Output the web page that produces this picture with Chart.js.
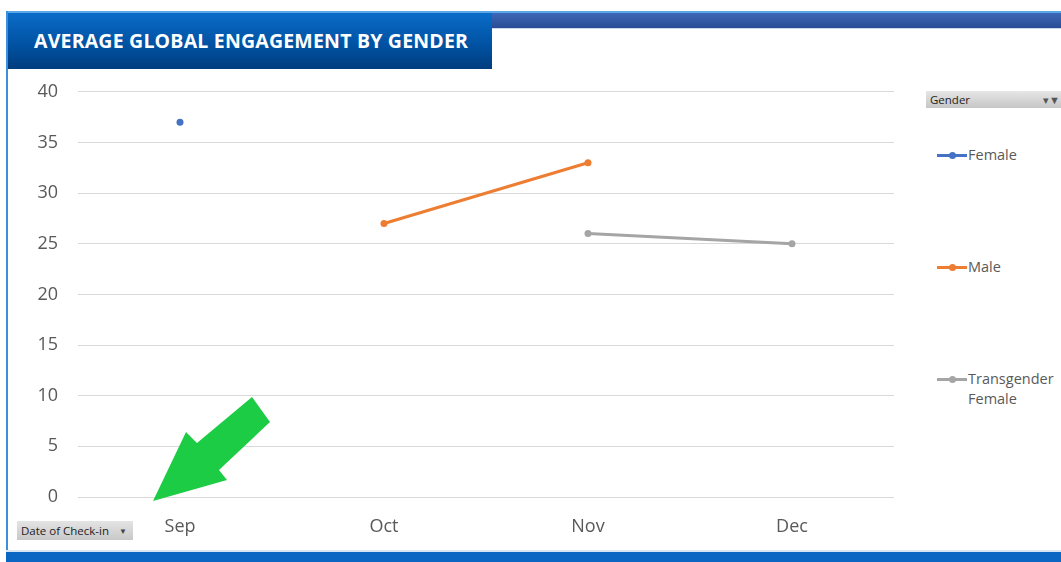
<!DOCTYPE html>
<html><head><meta charset="utf-8">
<script src="https://cdn.jsdelivr.net/npm/chart.js@4"></script>
<style>
html,body{margin:0;padding:0;background:#fff;width:1061px;height:562px;overflow:hidden;font-family:"Open Sans","Noto Sans",sans-serif;}
#wrap{position:relative;width:1061px;height:562px;}
.abs{position:absolute;}
#topline{left:6px;top:11px;width:1055px;height:2px;background:#5aa8e8;}
#leftline{left:6px;top:11px;width:2px;height:540px;background:#3d8fdc;}
#topbar{left:490px;top:13px;width:571px;height:15px;background:linear-gradient(#3c68b8,#2a4c94);border-bottom:1px solid #c8d8f0;}
#title{left:8px;top:13px;width:484px;height:56px;background:linear-gradient(#0a6cc8,#0050a0 60%,#003d7e);color:#fff;font-weight:bold;font-size:19.5px;line-height:56px;padding-left:26px;box-sizing:border-box;letter-spacing:0.2px;font-family:"Open Sans",sans-serif;}
#bottombar{left:6px;top:550px;width:1055px;height:12px;background:#0a66c2;border-top:2px solid #d6e4f4;box-sizing:border-box;}
#gender{left:926px;top:91px;width:135px;height:17px;background:linear-gradient(#e6e6e6,#c6c6c6);font-size:11.5px;line-height:17px;color:#222;padding-left:4px;box-sizing:border-box;}
#gender .ic{position:absolute;right:1px;top:0;font-size:11px;color:#555;}
#date{left:17px;top:521px;width:116px;height:19px;background:linear-gradient(#e4e4e4,#c8c8c8);font-size:11.5px;line-height:19px;color:#222;padding-left:4px;box-sizing:border-box;}
#date .ic{position:absolute;right:6px;top:0;font-size:8px;color:#444;}
.leg{position:absolute;left:937px;font-size:14.5px;color:#595959;line-height:20px;}
.leg .ln{position:absolute;left:0;top:9px;width:30px;height:3px;}
.leg .dt{position:absolute;left:12px;top:7px;width:7px;height:7px;border-radius:50%;}
.leg .tx{position:absolute;left:31px;top:0;white-space:nowrap;}
#cv{position:absolute;left:0;top:61px;}
</style></head>
<body><div id="wrap">
<canvas id="cv" width="900" height="489"></canvas>
<div class="abs" id="topline"></div>
<div class="abs" id="topbar"></div>
<div class="abs" id="leftline"></div>
<div class="abs" id="title">AVERAGE GLOBAL ENGAGEMENT BY GENDER</div>
<div class="abs" id="bottombar"></div>
<div class="abs" id="gender">Gender<span class="ic">&#9662;&#9660;</span></div>
<div class="abs" id="date">Date of Check-in<span class="ic">&#9660;</span></div>
<div id="legend"></div>
<svg class="abs" style="left:0;top:0" width="1061" height="562">
<polygon points="153,501 186,432 197,443 252,397 270,422 219,470 227,480" fill="#1ccc44"/>
</svg>
</div>
<script>
const categories = ["Sep", "Oct", "Nov", "Dec"];
const femaleValues = [37, null, null, null];
const maleValues = [null, 27, 33, null];
const transFemaleValues = [null, null, 26, 25];
const seriesNames = ["Female", "Male", "Transgender Female"];
const yTicks = [0, 5, 10, 15, 20, 25, 30, 35, 40];

const colors = ["#4472c4", "#ed7d31", "#a5a5a5"];
const seriesValues = [femaleValues, maleValues, transFemaleValues];

// HTML legend
const legTops = [145, 257, 369];
const legLabels = ["Female", "Male", "Transgender<br>Female"];
const legend = document.getElementById('legend');
seriesNames.forEach((n, i) => {
  const d = document.createElement('div');
  d.className = 'leg';
  d.style.top = legTops[i] + 'px';
  d.innerHTML = '<div class="ln" style="background:' + colors[i] + '"></div><div class="dt" style="background:' + colors[i] + '"></div><div class="tx">' + legLabels[i] + '</div>';
  legend.appendChild(d);
});

new Chart(document.getElementById('cv'), {
  type: 'line',
  data: {
    labels: categories,
    datasets: seriesNames.map((n, i) => ({
      label: n,
      data: seriesValues[i],
      borderColor: colors[i],
      backgroundColor: colors[i],
      borderWidth: 3,
      pointRadius: 3.5,
      pointHoverRadius: 3.5,
      pointBorderWidth: 0,
      spanGaps: false,
      tension: 0
    }))
  },
  options: {
    responsive: false,
    animation: false,
    layout: { padding: { top: 12, right: 6, bottom: 0, left: 0 } },
    plugins: { legend: { display: false }, tooltip: { enabled: false } },
    scales: {
      x: {
        offset: true,
        grid: { display: false },
        border: { display: false },
        ticks: { color: '#595959', font: { size: 18, family: '"Open Sans", sans-serif' }, padding: 11 },
        afterFit: s => { s.height = 53; }
      },
      y: {
        min: 0, max: 40,
        afterBuildTicks: s => { s.ticks = yTicks.map(v => ({ value: v })); },
        grid: { color: '#d9d9d9', drawTicks: false, lineWidth: 1 },
        border: { display: false },
        ticks: { color: '#595959', font: { size: 18, family: '"Open Sans", sans-serif' }, padding: 20 },
        afterFit: s => { s.width = 78; }
      }
    }
  }
});
</script>
</body></html>
